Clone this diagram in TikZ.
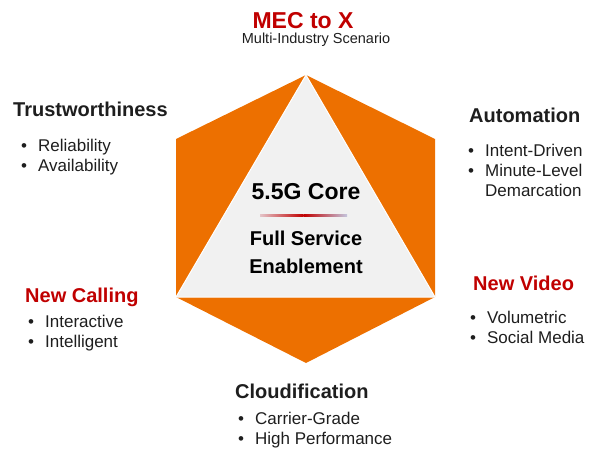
\documentclass[tikz,border=0pt]{standalone}
\usepackage{fontspec}
\setmainfont{Liberation Sans}
\usepackage{xcolor}
\usepackage{tikz}
\usetikzlibrary{positioning}
\definecolor{ink}{RGB}{30,30,30}
\definecolor{hexorange}{RGB}{237,112,0}
\definecolor{coregray}{RGB}{241,241,241}
\definecolor{accentred}{RGB}{192,0,0}
\definecolor{ruleleft}{RGB}{228,196,200}
\definecolor{ruleright}{RGB}{196,198,222}
\tikzset{
  hexface/.style={fill=hexorange, draw=none},
  coretri/.style={fill=coregray, draw=white, line width=1pt, line join=miter},
  ttl/.style={anchor=base, inner sep=0pt, font=\fontsize{23}{27}\selectfont\bfseries, text=accentred},
  subttl/.style={anchor=base, inner sep=0pt, font=\fontsize{14.5}{17}\selectfont, text=ink},
  head/.style={anchor=base west, inner sep=0pt, font=\fontsize{20}{24}\selectfont\bfseries, text=#1},
  head/.default=ink,
  blist/.style={anchor=base west, inner sep=0pt, font=\fontsize{17}{20}\selectfont, text=ink},
  core/.style={anchor=base, inner sep=0pt, font=\fontsize{#1}{#1}\selectfont\bfseries, text=black},
  core/.default=20,
}
\newcommand{\bulletrows}[1]{\begin{tabular}[t]{@{}l@{\hspace{11pt}}l@{}}#1\end{tabular}}

\begin{document}
\begin{tikzpicture}[x=1pt,y=-1pt]
  \useasboundingbox (0,0) rectangle (600,460);

  % Hexagon and core triangle
  \fill[hexface] (306,75) -- (435,139) -- (435,297) -- (306,363) -- (176,297) -- (176,139) -- cycle;
  \filldraw[coretri] (306,75) -- (435,297) -- (176,297) -- cycle;

  % Core text
  \node[core=23] (core) at (306,199) {5.5G Core};
  \shade[left color=ruleleft, right color=accentred] (260,214) rectangle (303.5,216);
  \shade[left color=accentred, right color=ruleright] (303.5,214) rectangle (347,216);
  \node[core] (full) at (306,245) {Full Service};
  \node[core] (enable) at (306,273) {Enablement};

  % Title
  \node[ttl] (mec) at (303,29) {MEC to X};
  \node[subttl] (multi) at (316,44) {Multi-Industry Scenario};

  % Corner headings and lists
  \node[head] (trust) at (13,117) {Trustworthiness};
  \node[blist] (trustlist) at (21,151) {\bulletrows{• & Reliability\\ • & Availability}};

  \node[head] (auto) at (469,122) {Automation};
  \node[blist] (autolist) at (468,156) {\bulletrows{• & Intent-Driven\\ • & Minute-Level\\ & Demarcation}};

  \node[head=accentred] (calling) at (25,302) {New Calling};
  \node[blist] (callinglist) at (28,327) {\bulletrows{• & Interactive\\ • & Intelligent}};

  \node[head=accentred] (video) at (473,290) {New Video};
  \node[blist] (videolist) at (470,323) {\bulletrows{• & Volumetric\\ • & Social Media}};

  \node[head] (cloud) at (235,398) {Cloudification};
  \node[blist] (cloudlist) at (238,424) {\bulletrows{• & Carrier-Grade\\ • & High Performance}};
\end{tikzpicture}
\end{document}
